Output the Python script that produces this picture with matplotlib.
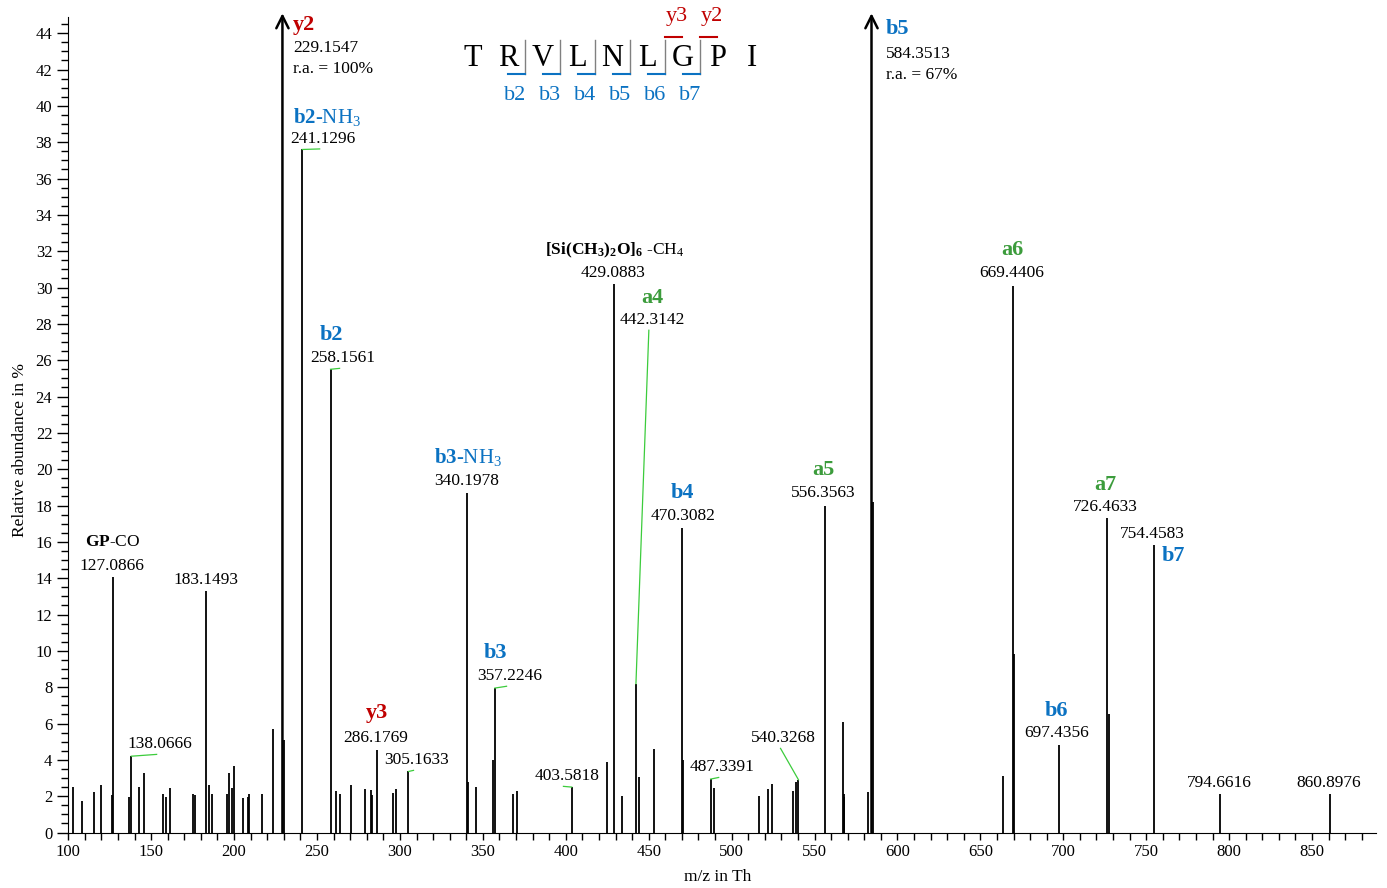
import matplotlib
matplotlib.use('Agg')
import matplotlib.pyplot as plt
from matplotlib.ticker import MultipleLocator

plt.rcParams['font.family'] = ['Liberation Serif', 'DejaVu Serif']
plt.rcParams['mathtext.fontset'] = 'custom'
plt.rcParams['mathtext.rm'] = 'Liberation Serif'
plt.rcParams['mathtext.bf'] = 'Liberation Serif:bold'
plt.rcParams['mathtext.it'] = 'Liberation Serif:italic'

BLUE = '#0b72c2'
RED = '#c00000'
GREEN = '#3c9c3c'
LINK = '#3ccc3c'

# peak list (m/z, relative abundance in %)
mz = [102.8, 108.3, 115.3, 119.5, 126.4, 127.0866, 136.5, 138.0666, 142.7, 145.5,
      157.2, 158.8, 161.2, 175.3, 176.5, 183.1493, 185.1, 186.5, 195.6, 197.0,
      198.8, 200.2, 205.6, 208.2, 208.9, 216.7, 223.4, 229.1547, 229.8, 241.1296,
      258.1561, 261.2, 263.6, 270.3, 278.8, 282.6, 283.4, 286.1769, 295.9, 297.9,
      305.1633, 340.1978, 340.8, 346.0, 355.9, 357.2246, 367.9, 370.5, 403.5818, 424.8,
      429.0883, 434.0, 442.3142, 444.3, 453.4, 470.3082, 470.9, 487.3391, 489.4, 516.4,
      521.8, 524.4, 536.9, 538.9, 540.3268, 556.3563, 566.9, 567.5, 568.0, 582.1,
      584.3513, 585.4, 663.9, 669.4406, 670.44, 697.4356, 726.4633, 727.47, 754.4583, 794.6616,
      860.8976]
abund = [2.53, 1.76, 2.22, 2.59, 2.04, 14.05, 1.98, 4.2, 2.5, 3.3,
         2.13, 1.98, 2.46, 2.13, 2.04, 13.28, 2.59, 2.13, 2.13, 3.3,
         2.46, 3.65, 1.91, 1.98, 2.13, 2.13, 5.71, 100.0, 5.07, 37.6,
         25.5, 2.28, 2.13, 2.59, 2.4, 2.33, 2.04, 4.52, 2.18, 2.4,
         3.36, 18.7, 2.8, 2.53, 3.97, 7.95, 2.1, 2.28, 2.5, 3.86,
         30.2, 2.0, 8.19, 3.05, 4.57, 16.75, 3.97, 2.94, 2.46, 2.0,
         2.4, 2.68, 2.28, 2.77, 2.9, 17.96, 6.06, 2.1, 1.95, 2.22,
         67.0, 18.2, 3.13, 30.1, 9.8, 4.83, 17.3, 6.54, 15.8, 2.1,
         2.12]

# annotated peaks: m/z, ion name, ion colour
ann_mz = [127.0866, 138.0666, 183.1493, 241.1296, 258.1561, 286.1769, 305.1633,
          340.1978, 357.2246, 403.5818, 429.0883, 442.3142, 470.3082, 487.3391,
          540.3268, 556.3563, 669.4406, 697.4356, 726.4633, 754.4583, 794.6616,
          860.8976]
ann_ion = [r'$\mathbf{GP}$-CO', '', '', r'$\mathbf{b2}$-NH$_3$', 'b2', 'y3', '',
           r'$\mathbf{b3}$-NH$_3$', 'b3', '', r'$\mathbf{[Si(CH_3)_2O]_6}$ -CH$_4$', 'a4', 'b4', '',
           '', 'a5', 'a6', 'b6', 'a7', 'b7', '', '']
ann_col = ['black', '', '', BLUE, BLUE, RED, '', BLUE, BLUE, '', 'black', GREEN, BLUE, '',
           '', GREEN, GREEN, BLUE, GREEN, BLUE, '', '']
# label placement (number x, number y, ion x, ion y, draw link)
ann_pos = [(126.3, 14.66, 126.8, 15.98, False),
           (155.3, 4.85, None, None, True),
           (183.1, 13.88, None, None, False),
           (253.6, 38.18, 256.0, 39.4, True),
           (265.6, 26.1, 258.4, 27.38, True),
           (285.6, 5.18, 286.2, 6.56, False),
           (310.2, 3.97, None, None, True),
           (340.0, 19.34, 341.0, 20.66, False),
           (366.3, 8.6, 357.8, 9.86, True),
           (400.6, 3.09, None, None, True),
           (428.5, 30.8, 429.7, 32.07, False),
           (452.1, 28.2, 452.1, 29.42, True),
           (470.6, 17.4, 470.6, 18.68, False),
           (494.2, 3.58, None, None, True),
           (531.5, 5.18, None, None, True),
           (555.2, 18.68, 555.2, 19.94, False),
           (669.0, 30.8, 669.0, 32.07, False),
           (695.7, 5.45, 695.7, 6.67, False),
           (725.6, 17.9, 725.6, 19.12, False),
           (753.4, 16.42, 766.1, 15.2, False),
           (793.8, 2.7, None, None, False),
           (860.1, 2.75, None, None, False)]

# off-scale peaks
big_mz = [229.1547, 584.3513]
big_ion = ['y2', 'b5']
big_col = [RED, BLUE]
big_ra = ['r.a. = 100%', 'r.a. = 67%']
big_pos = [235.5, 593.0]

sequence = ['T', 'R', 'V', 'L', 'N', 'L', 'G', 'P', 'I']
b_ions = [2, 3, 4, 5, 6, 7]
y_ions = [3, 2]

YTOP = 44.9

fig = plt.figure(figsize=(13.87, 8.88), dpi=100)
ax = fig.add_axes([0.0492, 0.0625, 0.9428, 0.9185])

for m, h in zip(mz, abund):
    if h <= YTOP:
        ax.vlines(m, 0, h, color='black', lw=1.3)
    else:
        ax.annotate('', xy=(m, YTOP + 0.2), xytext=(m, 0), annotation_clip=False,
                    arrowprops=dict(arrowstyle='->', lw=1.8, color='black',
                                    mutation_scale=22, shrinkA=0, shrinkB=0))

for m, ion, col, pos in zip(ann_mz, ann_ion, ann_col, ann_pos):
    nx, ny, ix, iy, link = pos
    h = abund[mz.index(m)]
    ax.text(nx, ny, f'{m:.4f}', ha='center', va='center', fontsize=12.5)
    if ion:
        if ion.startswith('$'):
            size = 12.5 if col == 'black' else 15
        else:
            size = 16
        ax.text(ix, iy, ion, ha='center', va='center', fontsize=size,
                color=col, fontweight='bold' if not ion.startswith('$') else 'normal')
    if link:
        ax.plot([m, nx - 2], [h, ny - 0.55], color=LINK, lw=0.9)

for m, ion, col, ra, x0 in zip(big_mz, big_ion, big_col, big_ra, big_pos):
    off = 0.25 if ion == 'b5' else 0.0
    ax.text(x0, 44.46 - off, ion, ha='left', va='center', fontsize=16,
            fontweight='bold', color=col)
    ax.text(x0, 43.2 - off * 1.3, f'{m:.4f}', ha='left', va='center', fontsize=12.5)
    ax.text(x0, 42.04 - off * 1.3, ra, ha='left', va='center', fontsize=12.5)

ax.set_xlim(100, 888.5)
ax.set_ylim(0, YTOP)
ax.spines['top'].set_visible(False)
ax.spines['right'].set_visible(False)
ax.xaxis.set_major_locator(MultipleLocator(50))
ax.xaxis.set_minor_locator(MultipleLocator(10))
ax.yaxis.set_major_locator(MultipleLocator(2))
ax.yaxis.set_minor_locator(MultipleLocator(0.5))
ax.tick_params(axis='y', which='major', direction='out', length=8, width=1, labelsize=12)
ax.tick_params(axis='y', which='minor', direction='out', length=5, width=1)
ax.tick_params(axis='x', which='both', direction='out', length=5, width=1, labelsize=12)
ax.set_xlabel('m/z in Th', fontsize=12.5)
ax.set_ylabel('Relative abundance in %', fontsize=12.5)
ax.xaxis.set_label_coords(0.497, -0.045)
ax.yaxis.set_label_coords(-0.031, 0.469)

# peptide sequence with fragment markers (pixel layout)
ov = fig.add_axes([0, 0, 1, 1])
ov.set_xlim(0, 1387)
ov.set_ylim(888, 0)
ov.axis('off')
x0, step = 473, 34.9
for i, aa in enumerate(sequence):
    ov.text(x0 + i * step, 58, aa, ha='center', va='center', fontsize=22)
for n in b_ions:
    cx = x0 + (n - 0.5) * step
    ov.plot([cx, cx], [40, 74], color='#808080', lw=1)
    ov.plot([cx - 17, cx], [74.5, 74.5], color=BLUE, lw=1.5)
    ov.text(cx - 10, 96, f'b{n}', ha='center', va='center', fontsize=16, color=BLUE)
for n in y_ions:
    cx = x0 + (len(sequence) - n - 0.5) * step
    ov.plot([cx, cx + 17], [37.5, 37.5], color=RED, lw=1.5)
    ov.text(cx + 12, 16, f'y{n}', ha='center', va='center', fontsize=16, color=RED)

fig.savefig('out.png', dpi=100)
